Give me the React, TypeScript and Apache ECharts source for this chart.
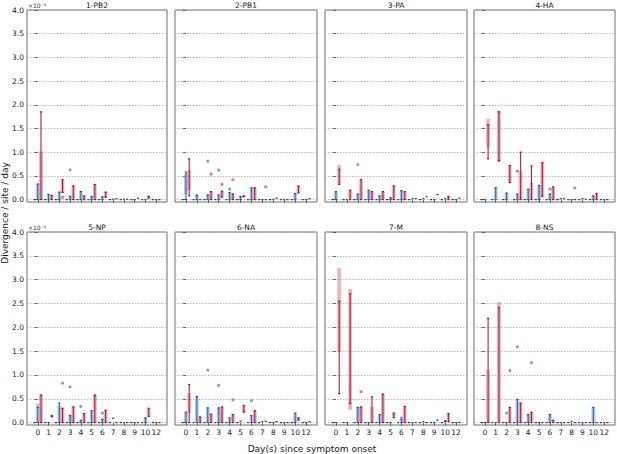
import React, { useEffect, useRef } from 'react';
import * as echarts from 'echarts';

// ---------- data (units of 1e-4 divergence / site / day) ----------
const DAYS = ['0', '1', '2', '3', '4', '5', '6', '7', '8', '9', '10', '12'];
const Y_TICKS = [0, 0.5, 1, 1.5, 2, 2.5, 3, 3.5, 4];
const PANEL_TITLES = ['1-PB2', '2-PB1', '3-PA', '4-HA', '5-NP', '6-NA', '7-M', '8-NS'];

// entry: single value | [lo, hi] | [lineLo, lineHi, boxLo, boxHi]
type Entry = number | number[];

const ZERO_GROUP: Entry[] = [0, 0, 0, 0, 0, 0, 0, 0, 0, 0, 0, 0];

const PB2_BLUE: Entry[] = [[0, 0.33], [0, 0.11], [0, 0.16], [0, 0.07], [0, 0.17], [0, 0.07], [0, 0.06], 0.01, 0.01, 0, 0, 0];
const PB2_RED: Entry[] = [[0, 1.85, 0, 1.02], [0, 0.09], [0.15, 0.42], [0, 0.29], [0, 0.08], [0, 0.32], [0.05, 0.16], 0.02, 0.01, 0.03, [0.03, 0.07], 0];
const PB2_OUT_BLUE = [[3, 0.63]];
const PB2_OUT_RED = [[2, 0.05]];

const PB1_BLUE: Entry[] = [[0, 0.58, 0.1, 0.55], [0, 0.1], [0, 0.1], [0, 0.1], [0, 0.15], [0, 0.07], [0, 0.25], 0, 0.01, 0, [0, 0.13], 0];
const PB1_RED: Entry[] = [[0.08, 0.86, 0.2, 0.62], 0, [0, 0.17], [0.05, 0.18], [0, 0.12], [0.06, 0.08], [0, 0.25], 0, 0.03, 0, [0.14, 0.29], 0.02];
const PB1_OUT_BLUE = [[2, 0.81], [3, 0.62], [4, 0.22]];
const PB1_OUT_RED = [[2, 0.54], [3, 0.32], [4, 0.42], [7, 0.27]];

const PA_BLUE: Entry[] = [[0, 0.17], 0, [0, 0.12], [0, 0.2], [0, 0.08], [0, 0.04], [0, 0.19], 0.02, 0.02, 0, 0.02, 0];
const PA_RED: Entry[] = [[0.32, 0.64, 0.32, 0.73], [0, 0.2], [0, 0.42], [0, 0.17], [0, 0.17], [0, 0.29], [0, 0.17], 0.02, 0.06, 0.11, [0, 0.07], 0.03];
const PA_OUT_BLUE = [[2, 0.74]];
const PA_OUT_RED: number[][] = [];

const HA_BLUE: Entry[] = [0, [0, 0.25], [0, 0.14], [0, 0.12], [0, 0.22], [0, 0.3], [0, 0.12], 0.02, 0, 0.02, [0, 0.08], 0];
const HA_RED: Entry[] = [[0.86, 1.58, 1.1, 1.7], [0.82, 1.85, 0.79, 1.88], [0.36, 0.72], [0, 1.0, 0, 0.6], [0, 0.71, 0, 0.35], [0.07, 0.78], [0, 0.27], 0.02, 0, 0.01, [0, 0.13], 0];
const HA_OUT_BLUE = [[3, 0.6], [6, 0.22]];
const HA_OUT_RED = [[8, 0.25]];

const NP_BLUE: Entry[] = [[0, 0.32, 0, 0.4], 0, [0, 0.41, 0, 0.36], [0, 0.15], [0, 0.05], [0, 0.25], [0, 0.07], 0.09, 0, 0, [0, 0.1], 0];
const NP_RED: Entry[] = [[0, 0.58], [0.12, 0.15], [0, 0.3], [0, 0.33], [0, 0.19], [0, 0.58], [0, 0.26], 0, 0, 0, [0.13, 0.3], 0];
const NP_OUT_BLUE = [[3, 0.75], [4, 0.34], [6, 0.2]];
const NP_OUT_RED = [[2, 0.83]];

const NA_BLUE: Entry[] = [[0, 0.22], [0, 0.55], [0, 0.31], [0, 0.31], [0, 0.1], 0.03, [0, 0.15], 0.02, 0, 0, [0, 0.2], 0];
const NA_RED: Entry[] = [[0, 0.8, 0.2, 0.62], [0, 0.12], [0, 0.18], [0, 0.33], [0, 0.17], [0.22, 0.36], [0, 0.25], 0.03, 0.02, 0, [0.05, 0.1], 0.02];
const NA_OUT_BLUE = [[2, 1.1], [3, 0.78], [6, 0.46]];
const NA_OUT_RED = [[4, 0.48]];

const M_BLUE: Entry[] = [0, 0, [0, 0.32], 0, [0, 0.17], 0, [0, 0.07], 0, 0.02, 0, [0.02, 0.04], 0];
const M_RED: Entry[] = [[0.61, 2.55, 1.49, 3.25], [0.4, 2.7, 0.27, 2.8], [0, 0.33], [0, 0.54, 0, 0.33], [0, 0.6], [0.1, 0.2], [0, 0.34], 0, 0, 0.05, [0.02, 0.19], 0];
const M_OUT_BLUE = [[6, 0.1]];
const M_OUT_RED = [[2, 0.65]];

const NS_BLUE: Entry[] = [0, 0, 0, [0, 0.49], [0, 0.17], 0, [0, 0.17], 0, 0.03, 0, [0, 0.32], 0];
const NS_RED: Entry[] = [[0, 2.19, 0, 1.1], [0, 2.42, 0, 2.53], [0, 0.32], [0, 0.41], [0, 0.22], 0, [0, 0.05], 0, 0, 0, 0, 0];
const NS_OUT_BLUE = [[2, 0.2], [3, 1.59]];
const NS_OUT_RED = [[2, 1.09], [4, 1.26]];

const PANEL_BLUE = [PB2_BLUE, PB1_BLUE, PA_BLUE, HA_BLUE, NP_BLUE, NA_BLUE, M_BLUE, NS_BLUE];
const PANEL_RED = [PB2_RED, PB1_RED, PA_RED, HA_RED, NP_RED, NA_RED, M_RED, NS_RED];
const PANEL_OUT_BLUE = [PB2_OUT_BLUE, PB1_OUT_BLUE, PA_OUT_BLUE, HA_OUT_BLUE, NP_OUT_BLUE, NA_OUT_BLUE, M_OUT_BLUE, NS_OUT_BLUE];
const PANEL_OUT_RED = [PB2_OUT_RED, PB1_OUT_RED, PA_OUT_RED, HA_OUT_RED, NP_OUT_RED, NA_OUT_RED, M_OUT_RED, NS_OUT_RED];

// ---------- layout / styles ----------
const FONT = 'DejaVu Sans';
const COL_LEFT = [27, 175, 325, 474];
const COL_WIDTH = [140, 142, 142, 141];
const ROW_TOP = [10, 232];
const ROW_HEIGHT = [192, 193];

const BLUE = { line: '#3a6ca3', box: 'rgba(120,168,218,0.6)', dot: '#24548a', out: '#6a9fd4' };
const RED = { line: '#a82240', box: 'rgba(226,104,130,0.5)', dot: '#951a36', out: '#dd6f88' };
const ZERO = { line: '#2c3e58', box: 'rgba(0,0,0,0)', dot: '#2c3e58', out: '#2c3e58' };

function toRows(arr: Entry[]): number[][] {
  return arr.map((e, i) => {
    if (typeof e === 'number') return [i, e, e, e, e];
    if (e.length === 2) return [i, e[0], e[1], e[0], e[1]];
    return [i, e[0], e[1], e[2], e[3]];
  });
}

function groupRenderer(offset: number, c: typeof BLUE) {
  return (params: any, api: any) => {
    const x = api.value(0) + offset;
    const lo = api.value(1);
    const hi = api.value(2);
    const bLo = api.value(3);
    const bHi = api.value(4);
    const pLo = api.coord([x, lo]);
    const pHi = api.coord([x, hi]);
    const pbLo = api.coord([x, bLo]);
    const pbHi = api.coord([x, bHi]);
    const children: any[] = [];
    if (bHi > bLo) {
      children.push({
        type: 'rect',
        shape: { x: pbHi[0] - 1.9, y: pbHi[1], width: 3.8, height: pbLo[1] - pbHi[1] },
        style: { fill: c.box },
      });
    }
    if (hi > lo) {
      children.push({
        type: 'line',
        shape: { x1: pLo[0], y1: pLo[1], x2: pHi[0], y2: pHi[1] },
        style: { stroke: c.line, lineWidth: 1.1 },
      });
    }
    children.push({
      type: 'rect',
      shape: { x: pLo[0] - 1.1, y: pLo[1] - 0.6, width: 2.2, height: 1.2 },
      style: { fill: c.dot },
    });
    if (hi > lo) {
      children.push({
        type: 'rect',
        shape: { x: pHi[0] - 1.1, y: pHi[1] - 0.6, width: 2.2, height: 1.2 },
        style: { fill: c.dot },
      });
    }
    return { type: 'group', children };
  };
}

function outlierRenderer(offset: number, color: string) {
  return (params: any, api: any) => {
    const p = api.coord([api.value(0) + offset, api.value(1)]);
    return { type: 'circle', shape: { cx: p[0], cy: p[1], r: 1.6 }, style: { fill: color, opacity: 0.9 } };
  };
}

function buildOption() {
  const grid: any[] = [];
  const xAxis: any[] = [];
  const yAxis: any[] = [];
  const series: any[] = [];
  const graphic: any[] = [];
  const xIdx = DAYS.map((_, i) => i);

  for (let k = 0; k < 8; k++) {
    const row = Math.floor(k / 4);
    const col = k % 4;
    const left = COL_LEFT[col];
    const top = ROW_TOP[row];
    const width = COL_WIDTH[col];
    const height = ROW_HEIGHT[row];
    grid.push({ left, top, width, height, show: true, borderColor: '#6e6e6e', borderWidth: 1, backgroundColor: 'transparent' });
    xAxis.push({
      type: 'value', gridIndex: k, min: -1, max: 12, interval: 1,
      axisLine: { show: false },
      splitLine: { show: false },
      axisTick: { show: true, customValues: xIdx, length: 3, lineStyle: { color: '#444', width: 0.8 } },
      axisLabel: {
        show: row === 1, customValues: xIdx, margin: 3,
        formatter: (v: number) => DAYS[v] ?? '',
        fontFamily: FONT, fontSize: 7.5, color: '#1a1a1a',
      },
    });
    yAxis.push({
      type: 'value', gridIndex: k, min: -0.05, max: 4,
      axisLine: { show: false },
      axisTick: { show: true, customValues: Y_TICKS, length: 3, lineStyle: { color: '#444', width: 0.8 } },
      axisLabel: {
        show: col === 0, customValues: Y_TICKS, margin: 3,
        formatter: (v: number) => v.toFixed(1),
        fontFamily: FONT, fontSize: 7.5, color: '#1a1a1a',
      },
      splitLine: { show: true, lineStyle: { color: '#a8a8a8', type: [1.5, 1.5], width: 0.8 } },
    });
    series.push({
      type: 'custom', name: 'zero', xAxisIndex: k, yAxisIndex: k,
      renderItem: groupRenderer(-0.3, ZERO), data: toRows(ZERO_GROUP),
    });
    series.push({
      type: 'custom', name: 'blue', xAxisIndex: k, yAxisIndex: k,
      renderItem: groupRenderer(0, BLUE), data: toRows(PANEL_BLUE[k]),
    });
    series.push({
      type: 'custom', name: 'red', xAxisIndex: k, yAxisIndex: k,
      renderItem: groupRenderer(0.3, RED), data: toRows(PANEL_RED[k]),
    });
    series.push({
      type: 'custom', name: 'blueOut', xAxisIndex: k, yAxisIndex: k,
      renderItem: outlierRenderer(0, BLUE.out), data: PANEL_OUT_BLUE[k],
    });
    series.push({
      type: 'custom', name: 'redOut', xAxisIndex: k, yAxisIndex: k,
      renderItem: outlierRenderer(0.3, RED.out), data: PANEL_OUT_RED[k],
    });
    graphic.push({
      type: 'text', x: left + width / 2, y: top - 5,
      style: { text: PANEL_TITLES[k], align: 'center', verticalAlign: 'middle', font: `7.5px "${FONT}"`, fill: '#1a1a1a' },
    });
    if (col === 0) {
      graphic.push({
        type: 'text', x: left + 1, y: top - 5,
        style: { text: '×10⁻⁴', align: 'left', verticalAlign: 'middle', font: `6px "${FONT}"`, fill: '#333' },
      });
    }
  }

  graphic.push({
    type: 'text', x: 312, y: 449,
    style: { text: 'Day(s) since symptom onset', align: 'center', verticalAlign: 'middle', font: `9px "${FONT}"`, fill: '#1a1a1a' },
  });
  graphic.push({
    type: 'text', x: 5, y: 213, rotation: Math.PI / 2,
    style: { text: 'Divergence / site / day', align: 'center', verticalAlign: 'middle', font: `9px "${FONT}"`, fill: '#1a1a1a' },
  });

  return { animation: false, backgroundColor: '#ffffff', grid, xAxis, yAxis, series, graphic };
}

export default function App() {
  const ref = useRef<HTMLDivElement>(null);
  useEffect(() => {
    if (!ref.current) return;
    const chart = echarts.init(ref.current, undefined, { renderer: 'svg' });
    chart.setOption(buildOption() as any);
    return () => chart.dispose();
  }, []);
  return <div ref={ref} style={{ position: 'absolute', left: 0, top: 0, width: 617, height: 454 }} />;
}
